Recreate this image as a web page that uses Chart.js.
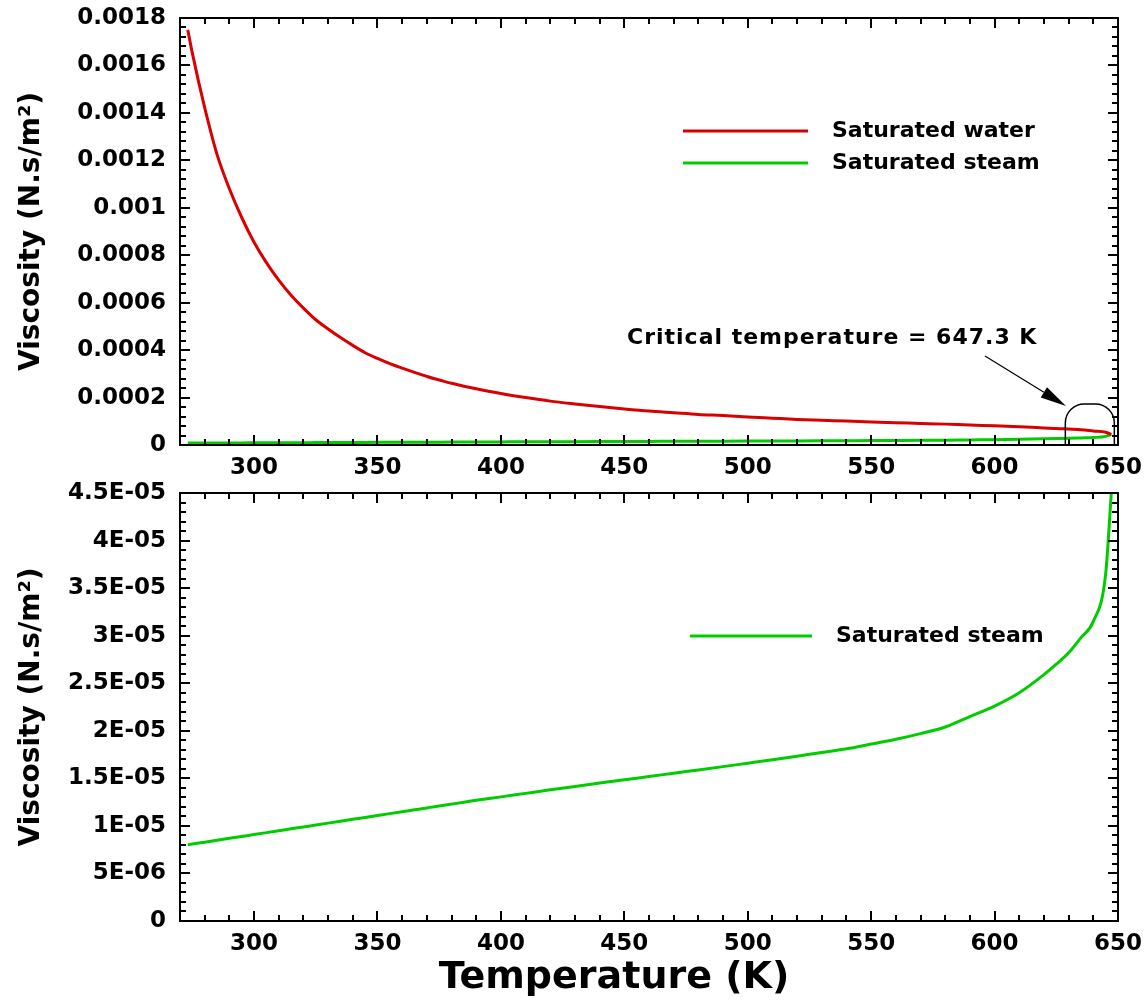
<!DOCTYPE html>
<html><head><meta charset="utf-8">
<script src="https://cdn.jsdelivr.net/npm/chart.js@4.4.1/dist/chart.umd.min.js"></script>
<style>
html,body{margin:0;padding:0;background:#fff;}
#wrap{position:relative;width:1147px;height:1000px;background:#fff;}
#c1{position:absolute;left:0;top:0;}
#c2{position:absolute;left:0;top:470px;}
</style></head><body>
<div id="wrap"><canvas id="c1" width="1147" height="480"></canvas><canvas id="c2" width="1147" height="530"></canvas></div>
<script>
// ---- data (viscosity in micro N.s/m^2) ----
const temperatures = [273.15,275,280,285,290,295,300,305,310,315,320,325,330,335,340,345,350,355,360,365,370,373.15,375,380,385,390,400,410,420,430,440,450,460,470,480,490,500,510,520,530,540,550,560,570,580,590,600,610,620,625,630,635,640,645,647.3];
const waterViscosity = [1750,1652,1422,1225,1080,959,855,769,695,631,577,528,489,453,420,389,365,343,324,306,289,279,274,260,248,237,217,200,185,173,162,152,143,136,129,124,118,113,108,104,101,97,94,91,88,84,81,77,72,70,67,64,59,54,45];
const steamViscosity = [8.02,8.09,8.29,8.49,8.69,8.89,9.09,9.29,9.49,9.69,9.89,10.09,10.29,10.49,10.69,10.89,11.09,11.29,11.49,11.69,11.89,12.02,12.09,12.29,12.49,12.69,13.05,13.42,13.79,14.14,14.5,14.85,15.19,15.54,15.88,16.23,16.59,16.95,17.33,17.72,18.1,18.6,19.1,19.7,20.4,21.5,22.6,24.0,25.9,27.0,28.2,29.8,31.5,36.5,45.0];
const seriesNames = ['Saturated water','Saturated steam'];
const xTicks = [300,350,400,450,500,550,600,650];
const xTickLabels = ['300','350','400','450','500','550','600','650'];
const topYTicks = [0,0.0002,0.0004,0.0006,0.0008,0.001,0.0012,0.0014,0.0016,0.0018];
const topYTickLabels = ['0','0.0002','0.0004','0.0006','0.0008','0.001','0.0012','0.0014','0.0016','0.0018'];
const bottomYTicks = [0,5e-6,1e-5,1.5e-5,2e-5,2.5e-5,3e-5,3.5e-5,4e-5,4.5e-5];
const bottomYTickLabels = ['0','5E-06','1E-05','1.5E-05','2E-05','2.5E-05','3E-05','3.5E-05','4E-05','4.5E-05'];
const yTitle = 'Viscosity (N.s/m\u00B2)';
const xTitle = 'Temperature (K)';
const annotationText = 'Critical temperature = 647.3 K';
const criticalT = 647.3;

const RED = '#d80000', GREEN = '#00cc00';
const FONT = '"DejaVu Sans", sans-serif';

const toPoints = (vals) => temperatures.map((t,i)=>({x:t, y:vals[i]*1e-6}));

// frame + inward ticks on all four sides
const frameTicks = {
  id:'frameTicks',
  afterDatasetsDraw(chart, args, o){
    const {ctx, chartArea:a, scales:{x,y}} = chart;
    ctx.save();
    ctx.strokeStyle='#000';
    ctx.lineWidth=2;
    ctx.beginPath();
    const nx = Math.round((x.max-x.min)/o.xMinor);
    for(let i=0;i<=nx;i++){
      const v = x.min + i*o.xMinor;
      const px = Math.round(x.getPixelForValue(v));
      const major = xTicks.some(t=>Math.abs(t-v)<1e-6);
      const L = major?10:6;
      ctx.moveTo(px,a.bottom); ctx.lineTo(px,a.bottom-L);
      ctx.moveTo(px,a.top); ctx.lineTo(px,a.top+L);
    }
    const ny = Math.round((y.max-y.min)/o.yMinor);
    for(let i=0;i<=ny;i++){
      const v = y.min + i*o.yMinor;
      const py = Math.round(y.getPixelForValue(v));
      const major = (i % o.yPerMajor)===0;
      const L = major?10:6;
      ctx.moveTo(a.left,py); ctx.lineTo(a.left+L,py);
      ctx.moveTo(a.right,py); ctx.lineTo(a.right-L,py);
    }
    ctx.stroke();
    ctx.strokeRect(Math.round(a.left), Math.round(a.top), Math.round(a.right-a.left), Math.round(a.bottom-a.top));
    ctx.restore();
  }
};

// line-sample legend
const lineLegend = {
  id:'lineLegend',
  afterDraw(chart, args, o){
    const ctx = chart.ctx;
    ctx.save();
    ctx.font = 'bold 22px '+FONT;
    ctx.textBaseline='middle'; ctx.textAlign='left'; ctx.fillStyle='#000';
    o.items.forEach(it=>{
      const ds = chart.data.datasets[it.idx];
      ctx.strokeStyle = ds.borderColor; ctx.lineWidth = 3;
      ctx.beginPath(); ctx.moveTo(o.x0,it.y); ctx.lineTo(o.x1,it.y); ctx.stroke();
      ctx.fillText(ds.label, o.tx, it.y);
    });
    ctx.restore();
  }
};

// x-axis title drawn below the bottom chart
const xAxisTitle = {
  id:'xAxisTitle',
  afterDraw(chart, args, o){
    if(!o || !o.text) return;
    const ctx = chart.ctx;
    ctx.save();
    ctx.font = 'bold 38px '+FONT;
    ctx.textAlign='center'; ctx.textBaseline='middle'; ctx.fillStyle='#000';
    ctx.fillText(o.text, o.cx, o.cy);
    ctx.restore();
  }
};

// critical temperature annotation
const critAnnot = {
  id:'critAnnot',
  afterDraw(chart){
    const {ctx, chartArea:a, scales:{x}} = chart;
    ctx.save();
    ctx.fillStyle='#000'; ctx.strokeStyle='#000';
    ctx.font = 'bold 22px '+FONT;
    try{ ctx.letterSpacing='1px'; }catch(e){}
    ctx.textBaseline='middle'; ctx.textAlign='left';
    ctx.fillText(annotationText, 627, 338);
    try{ ctx.letterSpacing='0px'; }catch(e){}
    // arch around the critical point
    const cxr = x.getPixelForValue(criticalT) + 3;
    const cxl = cxr - 49;
    const topY = a.bottom - 41, r = 19;
    ctx.lineWidth = 1.5;
    ctx.beginPath();
    ctx.moveTo(cxl, a.bottom);
    ctx.lineTo(cxl, topY + r);
    ctx.arc(cxl + r, topY + r, r, Math.PI, 1.5*Math.PI);
    ctx.lineTo(cxr - r, topY);
    ctx.arc(cxr - r, topY + r, r, 1.5*Math.PI, 2*Math.PI);
    ctx.lineTo(cxr, a.bottom);
    ctx.stroke();
    // arrow
    const x0=985, y0=356, x1=1066, y1=406;
    const ang = Math.atan2(y1-y0, x1-x0);
    const hl = 26, hw = 6;
    const bx = x1 - hl*Math.cos(ang), by = y1 - hl*Math.sin(ang);
    ctx.lineWidth = 1.2;
    ctx.beginPath(); ctx.moveTo(x0,y0); ctx.lineTo(bx,by); ctx.stroke();
    ctx.beginPath();
    ctx.moveTo(x1,y1);
    ctx.lineTo(bx + hw*Math.sin(ang), by - hw*Math.cos(ang));
    ctx.lineTo(bx - hw*Math.sin(ang), by + hw*Math.cos(ang));
    ctx.closePath(); ctx.fill();
    ctx.restore();
  }
};

function makeChart(canvasId, datasets, yTicks, yLabels, opts){
  return new Chart(document.getElementById(canvasId), {
    type:'line',
    data:{datasets},
    options:{
      responsive:false, animation:false, devicePixelRatio:1,
      layout:{padding:{top:opts.padTop,right:29,left:0,bottom:0}},
      elements:{point:{radius:0}, line:{borderWidth:3, tension:0, cubicInterpolationMode:'monotone'}},
      plugins:{
        legend:{display:false}, tooltip:{enabled:false},
        frameTicks:{xMinor:10, yMinor:opts.yMinor, yPerMajor:5},
        lineLegend:opts.legend,
        xAxisTitle:opts.xTitle
      },
      scales:{
        x:{
          type:'linear', min:270, max:650,
          afterBuildTicks:(s)=>{ s.ticks = xTicks.map(v=>({value:v})); },
          afterFit:(s)=>{ s.height = opts.xHeight; s.paddingLeft = 0; s.paddingRight = 0; },
          grid:{display:false, drawTicks:false},
          border:{display:false},
          ticks:{padding:opts.xPad, color:'#000', font:{family:FONT,size:23,weight:'bold'},
                 maxRotation:0, autoSkip:false,
                 callback:(v)=>{const i=xTicks.indexOf(v); return i>=0?xTickLabels[i]:'';}},
          title:{display:false}
        },
        y:{
          type:'linear', min:yTicks[0], max:yTicks[yTicks.length-1],
          afterBuildTicks:(s)=>{ s.ticks = yTicks.map(v=>({value:v})); },
          afterFit:(s)=>{ s.width = 180; s.paddingTop = 0; s.paddingBottom = 0; },
          grid:{display:false, drawTicks:false},
          border:{display:false},
          ticks:{padding:14, color:'#000', font:{family:FONT,size:23,weight:'bold'}, autoSkip:false,
                 callback:(v,i)=>yLabels[i]},
          title:{display:true, text:yTitle, color:'#000', font:{family:FONT,size:28,weight:'bold'}, padding:{top:15,bottom:0}}
        }
      }
    },
    plugins: opts.extraPlugins
  });
}

makeChart('c1', [
  {label:seriesNames[0], data:toPoints(waterViscosity), borderColor:RED, backgroundColor:RED, fill:false},
  {label:seriesNames[1], data:toPoints(steamViscosity), borderColor:GREEN, backgroundColor:GREEN, fill:false}
], topYTicks, topYTickLabels, {
  padTop:18, xHeight:35, xPad:9, yMinor:0.00004,
  legend:{x0:683,x1:808,tx:832,items:[{idx:0,y:131},{idx:1,y:163}]},
  xTitle:{},
  extraPlugins:[frameTicks, lineLegend, critAnnot]
});

makeChart('c2', [
  {label:seriesNames[1], data:toPoints(steamViscosity), borderColor:GREEN, backgroundColor:GREEN, fill:false}
], bottomYTicks, bottomYTickLabels, {
  padTop:23, xHeight:79, xPad:9, yMinor:1e-6,
  legend:{x0:690,x1:812,tx:836,items:[{idx:0,y:166}]},
  xTitle:{text:xTitle, cx:614, cy:508},
  extraPlugins:[frameTicks, lineLegend, xAxisTitle]
});
</script>
</body></html>
